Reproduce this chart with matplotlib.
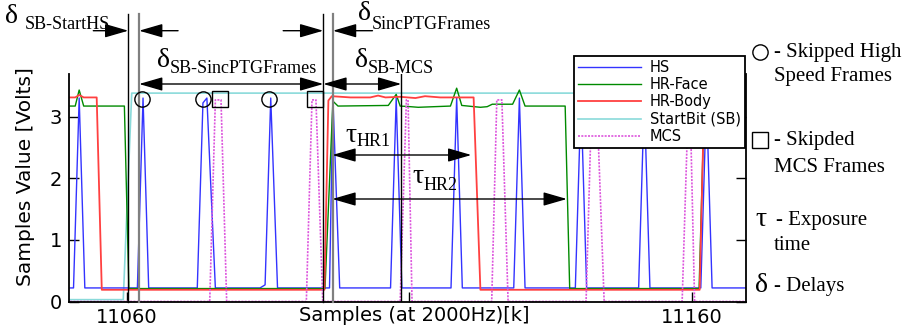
import matplotlib.pyplot as plt
from matplotlib.lines import Line2D

plt.rcParams['font.family'] = 'DejaVu Sans'
SERIF = 'Liberation Serif'

# signal traces: sample index [k] and volts
hs_x = [11050.0, 11050.6, 11051.6, 11052.6, 11061.9, 11062.9, 11063.9,
        11072.5, 11073.5, 11074.2, 11075.7, 11083.6, 11084.5, 11085.5, 11086.7,
        11095.9, 11096.5, 11097.7, 11106.7, 11107.7, 11108.7, 11117.4, 11118.4, 11119.4,
        11128.5, 11129.5, 11130.5, 11139.4, 11140.4, 11141.4, 11150.6, 11151.6, 11152.6,
        11161.6, 11162.6, 11163.6, 11170.0]
hs_y = [0.22, 0.22, 3.30, 0.22, 0.22, 3.30, 0.22,
        0.22, 3.22, 3.30, 0.22, 0.22, 0.27, 3.30, 0.22,
        0.22, 3.30, 0.22, 0.22, 3.30, 0.22, 0.22, 3.30, 0.22,
        0.22, 3.30, 0.22, 0.22, 3.30, 0.22, 0.22, 3.30, 0.22,
        0.22, 3.30, 0.22, 0.22]

face_x = [11050.0, 11050.9, 11051.6, 11052.4, 11059.6, 11060.4,
          11095.1, 11096.5, 11097.4, 11106.3, 11107.7, 11108.4,
          11110.2, 11111.6, 11117.3, 11118.4, 11119.3,
          11122.6, 11123.8, 11124.7, 11128.3, 11129.5, 11130.5,
          11137.6, 11138.4, 11161.3, 11162.2, 11170.0]
face_y = [3.17, 3.17, 3.43, 3.17, 3.17, 0.21,
          0.21, 3.25, 3.17, 3.18, 3.36, 3.17,
          3.16, 3.15, 3.17, 3.46, 3.18,
          3.15, 3.16, 3.20, 3.20, 3.43, 3.17,
          3.17, 0.21, 0.21, 3.17, 3.17]

body_x = [11050.0, 11050.9, 11051.6, 11052.4, 11054.7, 11055.6,
          11095.0, 11095.7, 11096.3, 11099.6, 11103.1, 11104.5, 11105.8,
          11108.4, 11111.1, 11112.8, 11115.5, 11121.4, 11122.6,
          11161.4, 11162.2, 11170.0]
body_y = [3.31, 3.31, 3.35, 3.31, 3.31, 0.19,
          0.19, 3.26, 3.33, 3.31, 3.31, 3.34, 3.31,
          3.32, 3.30, 3.33, 3.31, 3.31, 0.19,
          0.19, 3.31, 3.31]

sb_x = [11050.0, 11059.4, 11060.9, 11170.0]
sb_y = [0.03, 0.03, 3.38, 3.38]

mcs_x = [11050.0,
         11074.7, 11075.7, 11076.7, 11077.7,
         11091.8, 11092.8, 11093.5, 11094.7,
         11108.4, 11109.5, 11109.8, 11110.5,
         11124.6, 11125.5, 11126.4, 11127.5,
         11141.3, 11142.3, 11143.2, 11144.5,
         11158.3, 11159.4, 11159.7, 11160.5,
         11170.0]
mcs_y = [0.0,
         0.0, 3.27, 3.27, 0.0,
         0.0, 3.27, 3.27, 0.0,
         0.0, 3.27, 3.27, 0.0,
         0.0, 3.27, 3.27, 0.0,
         0.0, 3.27, 3.27, 0.0,
         0.0, 3.27, 3.27, 0.0,
         0.0]

# skipped frames
skip_hs_x = [11062.7, 11073.6, 11085.2]
skip_mcs_x = [11076.5, 11093.3]
skip_level = 3.29

# event instants (samples)
sb_rise = 11060.3
hs_start = 11062.2
sinc_end = 11094.8
mcs_start = 11096.5
mcs_end = 11108.6
body_off = 11121.0
face_off = 11137.9

W, H = 913, 336
fig = plt.figure(figsize=(W / 100, H / 100), dpi=100)
ax = fig.add_axes([69 / W, 1 - 301.5 / H, 677 / W, 227.5 / H])

ax.plot(sb_x, sb_y, color='#8adada', lw=1.2, label='StartBit (SB)', zorder=1)
ax.plot(hs_x, hs_y, color='#3333ff', lw=1.0, label='HS', zorder=2)
ax.plot(face_x, face_y, color='#008a00', lw=1.0, label='HR-Face', zorder=2)
ax.plot(body_x, body_y, color='#ff4040', lw=1.3, label='HR-Body', zorder=2)
ax.plot(mcs_x, mcs_y, color='#dd55dd', lw=1.2, ls=(0, (1.2, 0.8)), label='MCS', zorder=2)

ax.plot(skip_hs_x, [skip_level] * len(skip_hs_x), 'o', ms=11, mfc='none',
        mec='k', mew=1, zorder=4)
ax.plot(skip_mcs_x, [skip_level] * len(skip_mcs_x), 's', ms=11, mfc='none',
        mec='k', mew=1, zorder=4)

ax.set_xlim(11049.8, 11169.6)
ax.set_ylim(0, 3.69)
top_v = 3.69 * (301.5 - 14) / 227.5

# vertical markers, running above the plot
for xv, col, lw in [(sb_rise, 'k', 1.0), (hs_start, '#808080', 1.6),
                    (sinc_end, 'k', 1.0), (mcs_start, '#808080', 1.6)]:
    ax.plot([xv, xv], [0, top_v], color=col, lw=lw, clip_on=False, zorder=3)
ax.axvline(mcs_end, color='k', lw=1.0, zorder=3)


def arrow(x0, x1, py, style):
    ax.annotate('', xy=(x1, H - py), xytext=(x0, H - py),
                xycoords=('data', 'figure pixels'),
                textcoords=('data', 'figure pixels'),
                arrowprops=dict(arrowstyle=style + ',head_length=1.45,head_width=0.42',
                                color='k', lw=1, mutation_scale=10,
                                shrinkA=0, shrinkB=0),
                annotation_clip=False)


arrow(11054.1, sb_rise, 30.7, '-|>')
arrow(11069.1, hs_start, 30.7, '-|>')
arrow(11087.7, sinc_end, 30.7, '-|>')
arrow(11103.5, mcs_start, 30.7, '-|>')
arrow(hs_start, sinc_end, 84, '<|-|>')
arrow(sinc_end, mcs_end, 84, '<|-|>')
arrow(mcs_start - 0.1, body_off, 155, '<|-|>')
arrow(mcs_start - 0.1, face_off, 199, '<|-|>')


def label(px, py, main, sx, sy, sub):
    fig.text(px / W, 1 - py / H, main, family=SERIF, fontsize=20, va='baseline')
    fig.text(sx / W, 1 - sy / H, sub, family=SERIF, fontsize=13, va='baseline')


label(5, 23, 'δ', 25, 29, 'SB-StartHS')
label(358, 20, 'δ', 372, 29, 'SincPTGFrames')
label(157, 67, 'δ', 170, 73, 'SB-SincPTGFrames')
label(355, 67, 'δ', 368, 73, 'SB-MCS')
label(345, 142, 'τ', 357, 146, 'HR1')
label(412, 183, 'τ', 424, 190, 'HR2')

# key on the right
fig.add_artist(Line2D([760 / W], [1 - 52 / H], marker='o', ms=11, mfc='none',
                      mec='k', mew=1, transform=fig.transFigure))
fig.add_artist(Line2D([760 / W], [1 - 140 / H], marker='s', ms=11, mfc='none',
                      mec='k', mew=1, transform=fig.transFigure))
for px, py, txt, fs in [(774, 52, '- Skipped High', 15), (774, 77, 'Speed Frames', 15),
                        (774, 140, '- Skipded', 15), (774, 167, 'MCS Frames', 15),
                        (755, 220, 'τ', 20), (776, 220, '- Exposure', 15),
                        (774, 245, 'time', 15),
                        (755, 286, 'δ', 20), (774, 286, '- Delays', 15)]:
    fig.text(px / W, 1 - py / H, txt, family=SERIF, fontsize=fs, va='center')

handles, labels = ax.get_legend_handles_labels()
order = ['HS', 'HR-Face', 'HR-Body', 'StartBit (SB)', 'MCS']
hmap = dict(zip(labels, handles))
leg = ax.legend([hmap[k] for k in order], order, loc='upper right',
                bbox_to_anchor=(745 / W, 1 - 55.7 / H), bbox_transform=fig.transFigure,
                fancybox=False, edgecolor='k', framealpha=1, fontsize=10.5,
                handlelength=4.3, handletextpad=0.6, labelspacing=0.15,
                borderpad=0.3, borderaxespad=0)
leg.get_frame().set_linewidth(1.3)
leg.set_zorder(5)

ax.set_xticks([11060, 11110, 11160])
ax.set_xticklabels(['11060', '', '11160'])
ax.set_yticks([0, 1, 2, 3])
ax.tick_params(direction='in', length=7, width=1, labelsize=14, right=True, pad=5)
ax.spines['top'].set_visible(False)
for s in ['left', 'right', 'bottom']:
    ax.spines[s].set_linewidth(1.3)

ax.set_xlabel('Samples (at 2000Hz)[k]', fontsize=14)
ax.xaxis.set_label_coords(0.51, -0.02)
ax.set_ylabel('Samples Value [Volts]', fontsize=14.5)
ax.yaxis.set_label_coords(-0.05, 0.55)

fig.savefig('out.png', dpi=100)
